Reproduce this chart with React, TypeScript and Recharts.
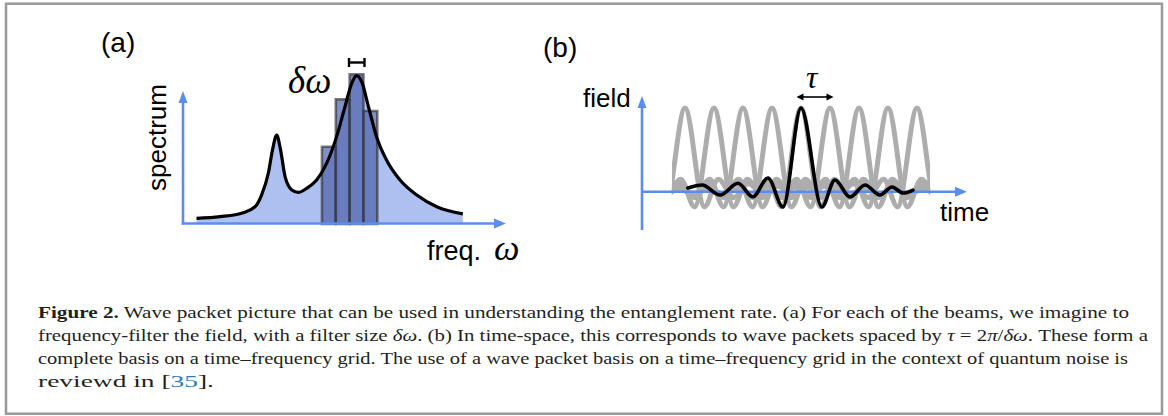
import React from 'react';
import { ComposedChart, BarChart, LineChart, Line, Area, Bar, XAxis, YAxis } from 'recharts';

// ---------- Panel (a): spectrum ----------
const spectrumFreq = [4.2, 11.5, 18.7, 22.4, 24.4, 26.5, 27.8, 29.1, 30.3, 31.7, 33.8, 35.8, 38.4, 41.5, 44.6, 47.7, 50.3, 52.4, 53.9, 55.5, 57.6, 60.1, 63.2, 67.4, 72.6, 78.8, 86.9];
const spectrumValue = [3.5, 4.6, 7.1, 10.8, 18.1, 31.7, 46.3, 55.6, 46.3, 29.6, 21.3, 19.8, 22.3, 27.5, 37.9, 54.6, 73.3, 87.9, 92.7, 88.9, 73.3, 54.6, 40, 27.5, 18.1, 10.8, 6.3];
const filterCenters = [45.3, 49.6, 53.9, 58.2];
const filterHeights = [48.3, 77.9, 93.5, 70.6];

// ---------- Panel (b): wave packets ----------
const blackTime = [-3.9, -3.41, -2.79, -2.17, -1.66, -1.14, -0.62, 0, 0.72, 1.17, 1.69, 2.21, 2.72, 3.14, 3.52, 3.86];
const blackField = [0.044, 0.08, -0.04, 0.1, -0.063, 0.164, -0.183, 1.0, -0.183, 0.14, -0.063, 0.08, -0.04, 0.056, -0.016, 0.02];
const packetOffsets = [-8.7, -8.2, -7.7, -7.2, -6.7, -6.2, -5.7, -5.2, -4.7, -4.2, -3.7, -3.2, -2.72, -2.19, -1.68, -1.15, -0.67, 0, 0.67, 1.15, 1.68, 2.19, 2.72, 3.2, 3.7, 4.2, 4.7, 5.2, 5.7, 6.2, 6.7, 7.2, 7.7, 8.2, 8.7];
const packetField = [-0.02, 0.025, -0.02, 0.03, -0.025, 0.035, -0.025, 0.04, -0.03, 0.05, -0.035, 0.065, -0.045, 0.095, -0.07, 0.15, -0.18, 1.0, -0.18, 0.15, -0.07, 0.095, -0.045, 0.065, -0.035, 0.05, -0.03, 0.04, -0.025, 0.035, -0.025, 0.03, -0.02, 0.025, -0.02];
const packetCenters = [-4, -3, -2, -1, 0, 1, 2, 3, 4];

const spectrumData = spectrumFreq.map((f, i) => ({ f, s: spectrumValue[i] }));
const filterData = filterCenters.map((f, i) => ({ f, h: filterHeights[i] }));
const blackData = blackTime.map((t, i) => ({ t, v: blackField[i] }));
const grayPackets = packetCenters.map((c) => packetOffsets.map((o, i) => ({ t: c + o, v: packetField[i] })));

const W = 1168;
const H = 416;
const BLUE = '#5b8cf2';
const SANS = '"Liberation Sans", Arial, Helvetica, sans-serif';
const SERIF = '"Liberation Serif", "Times New Roman", serif';

const abs: React.CSSProperties = { position: 'absolute', left: 0, top: 0, width: W, height: H };

const marginA = { top: 64, right: W - 505, bottom: H - 224, left: 183 };
const marginB = { top: 95.4, right: W - 930.05, bottom: H - 233.55, left: 671.95 };

function Arrow({ x1, y1, x2, y2, color, width, head, half }: { x1: number; y1: number; x2: number; y2: number; color: string; width: number; head: number; half: number }) {
  const dx = x2 - x1;
  const dy = y2 - y1;
  const len = Math.hypot(dx, dy);
  const ux = dx / len;
  const uy = dy / len;
  const bx = x2 - ux * head;
  const by = y2 - uy * head;
  const px = -uy * half;
  const py = ux * half;
  return (
    <g>
      <line x1={x1} y1={y1} x2={bx + ux * 1} y2={by + uy * 1} stroke={color} strokeWidth={width} />
      <polygon points={`${x2},${y2} ${bx + px},${by + py} ${bx - px},${by - py}`} fill={color} />
    </g>
  );
}

function AxesA() {
  return (
    <>
      <XAxis type="number" dataKey="f" domain={[0, 100]} hide />
      <YAxis type="number" domain={[0, 100]} hide />
    </>
  );
}

export default function App() {
  return (
    <div style={{ ...abs, background: '#fff' }}>
      {/* frame and caption */}
      <svg style={abs} width={W} height={H}>
        <rect x={6} y={3.7} width={1156} height={410} fill="none" stroke="#999" strokeWidth={2.5} />
        <g fontFamily={SERIF} fontSize={17} fill="#231f20">
          <text x={38} y={318} textLength={1091} lengthAdjust="spacingAndGlyphs">
            <tspan fontWeight="bold">Figure 2.</tspan>
            <tspan> Wave packet picture that can be used in understanding the entanglement rate. (a) For each of the beams, we imagine to</tspan>
          </text>
          <text x={38} y={341} textLength={1110} lengthAdjust="spacingAndGlyphs">
            <tspan>frequency-filter the field, with a filter size </tspan>
            <tspan fontStyle="italic">δω</tspan>
            <tspan>. (b) In time-space, this corresponds to wave packets spaced by </tspan>
            <tspan fontStyle="italic">τ</tspan>
            <tspan> = 2</tspan>
            <tspan fontStyle="italic">π</tspan>
            <tspan>/</tspan>
            <tspan fontStyle="italic">δω</tspan>
            <tspan>. These form a</tspan>
          </text>
          <text x={38} y={364} textLength={1090} lengthAdjust="spacingAndGlyphs">
            complete basis on a time–frequency grid. The use of a wave packet basis on a time–frequency grid in the context of quantum noise is
          </text>
          <text x={38} y={387} textLength={176} lengthAdjust="spacingAndGlyphs">
            <tspan>reviewd in [</tspan>
            <tspan fill="#2b7bb9">35</tspan>
            <tspan>].</tspan>
          </text>
        </g>
      </svg>

      {/* Panel (a): filled spectrum */}
      <div style={abs}>
        <ComposedChart width={W} height={H} data={spectrumData} margin={marginA}>
          {AxesA()}
          <Area dataKey="s" type="monotone" fill="#aec0f0" fillOpacity={1} stroke="none" isAnimationActive={false} />
        </ComposedChart>
      </div>
      {/* Panel (a): filter bins */}
      <div style={abs}>
        <BarChart width={W} height={H} data={filterData} margin={marginA} barCategoryGap={0} barGap={0}>
          {AxesA()}
          <Bar dataKey="h" barSize={13.8} fill="#4b5fa8" fillOpacity={0.7} stroke="#333" strokeOpacity={0.65} strokeWidth={2.6} isAnimationActive={false} />
        </BarChart>
      </div>
      {/* Panel (a): spectrum outline */}
      <div style={abs}>
        <ComposedChart width={W} height={H} data={spectrumData} margin={marginA}>
          {AxesA()}
          <Line dataKey="s" type="monotone" stroke="#000" strokeWidth={3.2} dot={false} isAnimationActive={false} />
        </ComposedChart>
      </div>

      {/* Panel (b): gray packets */}
      <div style={abs}>
        <LineChart width={W} height={H} margin={marginB}>
          <XAxis type="number" dataKey="t" domain={[-4.45, 4.45]} allowDataOverflow hide />
          <YAxis type="number" domain={[-0.5, 1.15]} allowDataOverflow hide />
          {grayPackets.map((d, i) => (
            <Line key={i} data={d} dataKey="v" type="monotone" stroke="#adadad" strokeWidth={5} dot={false} isAnimationActive={false} />
          ))}
        </LineChart>
      </div>

      {/* axes, labels and annotations */}
      <svg style={abs} width={W} height={H}>
        <Arrow x1={183} y1={224.5} x2={183} y2={91} color={BLUE} width={2.6} head={12} half={4.5} />
        <Arrow x1={181.7} y1={223.5} x2={506} y2={223.5} color={BLUE} width={2.6} head={12} half={5} />
        <Arrow x1={642} y1={230} x2={642} y2={96} color={BLUE} width={2.6} head={12} half={4.5} />
        <Arrow x1={642} y1={191.7} x2={967} y2={191.7} color={BLUE} width={2.6} head={12} half={5} />

        <g fontFamily={SANS} fill="#000">
          <text x={101} y={52} fontSize={28}>(a)</text>
          <text x={543} y={56.5} fontSize={28}>(b)</text>
          <text x={0} y={0} fontSize={26} textAnchor="middle" transform="translate(166,137.5) rotate(-90)">spectrum</text>
          <text x={427} y={260} fontSize={27}>freq.</text>
          <text x={583} y={107} fontSize={26}>field</text>
          <text x={940} y={221} fontSize={26}>time</text>
        </g>
        <g fontFamily={SERIF} fontStyle="italic" fill="#000">
          <text x={494} y={260} fontSize={36}>ω</text>
          <text x={288} y={93} fontSize={37}>δω</text>
          <text x={806} y={88} fontSize={32}>τ</text>
        </g>
        <g stroke="#000" strokeWidth={2.4}>
          <line x1={349} y1={58} x2={349} y2={67} />
          <line x1={364.5} y1={58} x2={364.5} y2={67} />
          <line x1={349} y1={62.5} x2={364.5} y2={62.5} />
        </g>
        <Arrow x1={815} y1={97} x2={833.5} y2={97} color="#000" width={1.6} head={7} half={3.5} />
        <Arrow x1={815} y1={97} x2={796.5} y2={97} color="#000" width={1.6} head={7} half={3.5} />
      </svg>

      {/* Panel (b): highlighted packet */}
      <div style={abs}>
        <LineChart width={W} height={H} margin={marginB}>
          <XAxis type="number" dataKey="t" domain={[-4.45, 4.45]} allowDataOverflow hide />
          <YAxis type="number" domain={[-0.5, 1.15]} allowDataOverflow hide />
          <Line data={blackData} dataKey="v" type="monotone" stroke="#000" strokeWidth={3.6} strokeLinecap="round" dot={false} isAnimationActive={false} />
        </LineChart>
      </div>
    </div>
  );
}
